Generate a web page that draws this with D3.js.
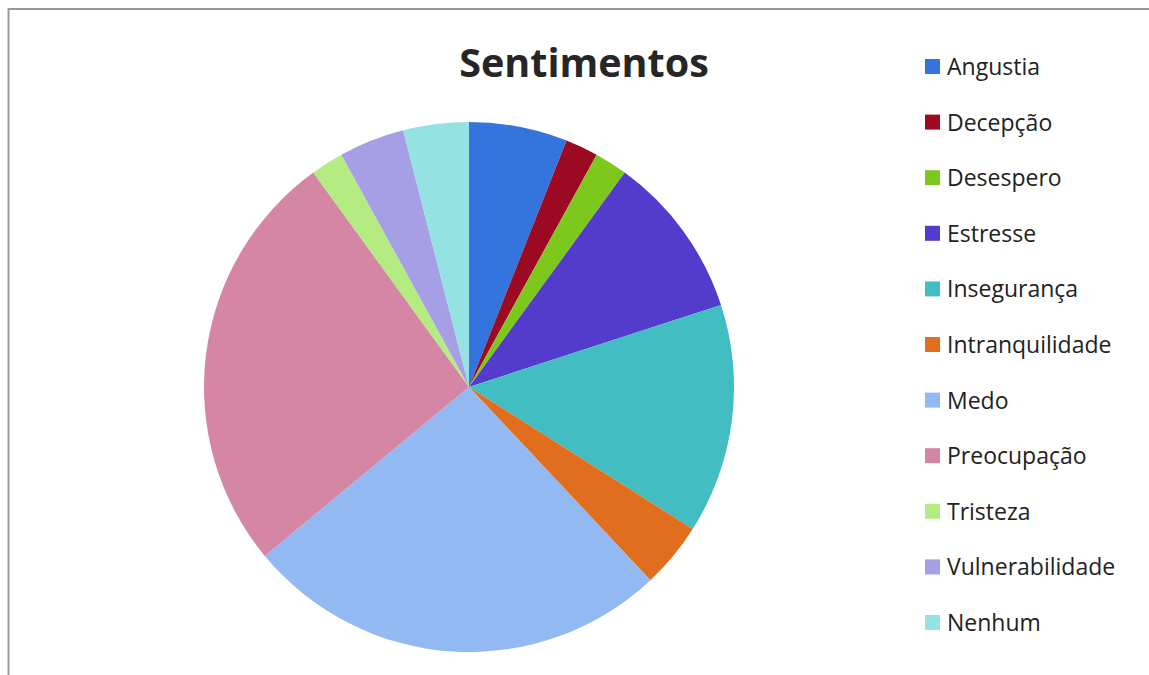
<!DOCTYPE html>
<html><head><meta charset="utf-8">
<script src="https://cdn.jsdelivr.net/npm/d3@7"></script>
<style>body{margin:0;background:#fff}svg{display:block}</style>
</head><body>
<script>
const categories = ["Angustia","Decepção","Desespero","Estresse","Insegurança","Intranquilidade","Medo","Preocupação","Tristeza","Vulnerabilidade","Nenhum"];
const values = [3,1,1,5,7,2,13,13,1,2,2];
const colors = ["#3375DC","#9B0A22","#7DC81C","#533BCC","#42BDC2","#E06E1E","#93B9F2","#D586A5","#B4EC82","#A79FE6","#94E2E2"];
const title = "Sentimentos";

const W=1149,H=675;
const svg=d3.select("body").append("svg").attr("width",W).attr("height",H);
svg.append("path").attr("d",`M${W+5},9 H8.5 V${H+5}`).attr("fill","none").attr("stroke","#999").attr("stroke-width",2);

svg.append("text").attr("x",584).attr("y",77).attr("text-anchor","middle")
 .attr("font-family","'Open Sans',sans-serif").attr("font-weight","bold").attr("font-size",39.5)
 .attr("fill","#262626").text(title);

const cx=469,cy=387,r=265;
const pie=d3.pie().sort(null).value(d=>d)(values);
const arc=d3.arc().innerRadius(0).outerRadius(r);
svg.append("g").attr("transform",`translate(${cx},${cy})`).selectAll("path").data(pie).join("path")
 .attr("d",arc).attr("fill",(d,i)=>colors[i]);

const y=d3.scalePoint().domain(categories).range([66,622]);
const lg=svg.append("g");
categories.forEach((c,i)=>{
  lg.append("rect").attr("x",925).attr("y",y(c)-7).attr("width",15).attr("height",15).attr("fill",colors[i]);
  lg.append("text").attr("x",947).attr("y",y(c)+9).attr("font-family","'Open Sans',sans-serif").attr("font-size",23)
   .attr("fill","#222").text(c);
});
</script>
</body></html>
